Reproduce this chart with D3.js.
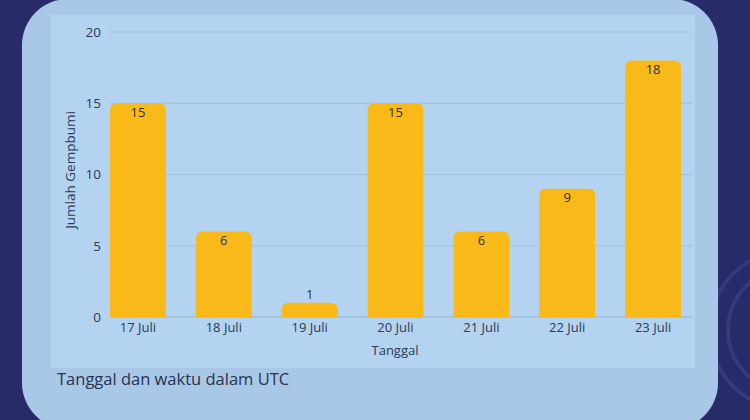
<!DOCTYPE html>
<html><head><meta charset="utf-8">
<script src="https://cdn.jsdelivr.net/npm/d3@7"></script>
<style>html,body{margin:0;padding:0;background:#272c68;}svg{display:block}</style>
</head><body>
<script>
const categories = ["17 Juli","18 Juli","19 Juli","20 Juli","21 Juli","22 Juli","23 Juli"];
const values = [15, 6, 1, 15, 6, 9, 18];
const yTicks = [0, 5, 10, 15, 20];
const xTitle = "Tanggal";
const yTitle = "Jumlah Gempbumi";
const caption = "Tanggal dan waktu dalam UTC";

const W = 750, H = 420;
const svg = d3.select("body").append("svg").attr("width", W).attr("height", H);
svg.append("rect").attr("width", W).attr("height", H).attr("fill", "#272c68");

// faint arcs on right
[[790, 330, 80], [790, 330, 62]].forEach(([cx, cy, r]) => {
  svg.append("circle").attr("cx", cx).attr("cy", cy).attr("r", r)
    .attr("fill", "none").attr("stroke", "#333b7a").attr("stroke-width", 4);
});

// outer panel
svg.append("rect").attr("x", 22).attr("y", -1).attr("width", 696).attr("height", 430)
  .attr("rx", 46).attr("fill", "#a9c7e6");
// inner chart area
svg.append("rect").attr("x", 51).attr("y", 15).attr("width", 644).attr("height", 353)
  .attr("fill", "#b3d3f0");

const x = d3.scaleBand().domain(categories).range([95, 696]).paddingInner(0.35).paddingOuter(0.175);
const y = d3.scaleLinear().domain([0, 20]).range([317, 32]);

const font = "'Open Sans', 'Noto Sans', sans-serif";
const textCol = "#2c3a57";

// grid
svg.append("g").selectAll("line").data(yTicks).enter().append("line")
  .attr("x1", 110).attr("x2", 692)
  .attr("y1", d => y(d)).attr("y2", d => y(d))
  .attr("stroke", d => d === 0 ? "#93b6d8" : "#9fc0e0").attr("stroke-width", 1);

// y axis labels
const yAxis = d3.axisLeft(y).tickValues(yTicks).tickSize(0).tickPadding(0);
const ya = svg.append("g").attr("transform", "translate(101,0)").call(yAxis);
ya.select(".domain").remove();
ya.selectAll("text").attr("font-family", font).attr("font-size", 13.5).attr("font-weight", 500).attr("fill", textCol);

// bars with rounded top
const r = 7;
function barPath(d, i) {
  const x0 = x(categories[i]), w = x.bandwidth(), yt = y(d), yb = y(0);
  const rr = Math.min(r, (yb - yt));
  return `M${x0},${yb} V${yt + rr} Q${x0},${yt} ${x0 + rr},${yt} H${x0 + w - rr} Q${x0 + w},${yt} ${x0 + w},${yt + rr} V${yb} Z`;
}
svg.append("g").selectAll("path").data(values).enter().append("path")
  .attr("d", barPath).attr("fill", "#f8b919");

// value labels (inside near top; above for short bars)
svg.append("g").selectAll("text").data(values).enter().append("text")
  .attr("x", (d, i) => x(categories[i]) + x.bandwidth() / 2)
  .attr("y", d => (y(0) - y(d) < 20) ? y(d) - 4 : y(d) + 13.5)
  .attr("text-anchor", "middle").attr("font-family", font).attr("font-size", 13).attr("font-weight", 500)
  .attr("fill", "#33302a").text(d => d);

// x axis labels
const xAxis = d3.axisBottom(x).tickSize(0).tickPadding(0);
const xa = svg.append("g").attr("transform", "translate(0,320)").call(xAxis);
xa.select(".domain").remove();
xa.selectAll("text").attr("font-family", font).attr("font-size", 13).attr("font-weight", 500).attr("fill", textCol).attr("dy", "0.9em");

// titles
svg.append("text").attr("x", 395).attr("y", 355).attr("text-anchor", "middle")
  .attr("font-family", font).attr("font-size", 13).attr("font-weight", 500).attr("fill", textCol).text(xTitle);
svg.append("text").attr("transform", "translate(75,170) rotate(-90)").attr("text-anchor", "middle")
  .attr("font-family", font).attr("font-size", 13.5).attr("font-weight", 500).attr("fill", textCol).text(yTitle);
svg.append("text").attr("x", 57).attr("y", 385)
  .attr("font-family", font).attr("font-size", 16.5).attr("font-weight", 500).attr("fill", "#263450").text(caption);
</script>
</body></html>
